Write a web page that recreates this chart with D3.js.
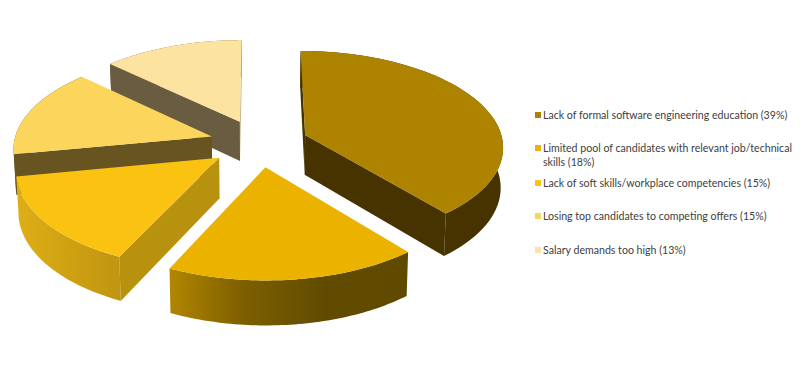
<!DOCTYPE html>
<html>
<head>
<meta charset="utf-8">
<script src="https://cdn.jsdelivr.net/npm/d3@7/dist/d3.min.js"></script>
<style>
html,body{margin:0;padding:0;background:#fff;}
svg{display:block;}
text{font-family:Lato,"Open Sans",sans-serif;font-size:10.6px;fill:#404040;}
</style>
</head>
<body>
<svg id="chart" width="800" height="383"></svg>
<script>
const categories = [
  "Lack of formal software engineering education (39%)",
  "Limited pool of candidates with relevant job/technical skills (18%)",
  "Lack of soft skills/workplace competencies (15%)",
  "Losing top candidates to competing offers (15%)",
  "Salary demands too high (13%)"
];
const legendLines = [
  ["Lack of formal software engineering education (39%)"],
  ["Limited pool of candidates with relevant job/technical", "skills (18%)"],
  ["Lack of soft skills/workplace competencies (15%)"],
  ["Losing top candidates to competing offers (15%)"],
  ["Salary demands too high (13%)"]
];
const values = [39, 18, 15, 15, 13];

const topColors   = ["#ae8300", "#ebb300", "#fac312", "#fcd55c", "#fce3a0"];
const startWall   = ["#463300", null, "#b8920e", "#675420", "#6a5c40"];
const endWall     = ["#463300", null, null, null, "#c8b888"];
const outerStops  = [
  [[0, "#463300"], [1, "#463300"]],
  [[0, "#b28600"], [0.3, "#7f6000"], [0.65, "#604b00"], [1, "#5f4a00"]],
  [[0, "#deae15"], [1, "#c09510"]],
  [[0, "#675420"], [1, "#675420"]],
  [[0, "#6a5c40"], [1, "#6a5c40"]]
];

const cx = 259, cy = 143, Rx = 198, Ry = 95;
const depth = 40, persp = 0.11, explode = 0.25, bottomScale = 0.99;

const x = d3.scaleLinear().domain([-1, 1]).range([cx - Rx, cx + Rx]);
const y = d3.scaleLinear().domain([-1, 1]).range([cy + Ry, cy - Ry]);

function project(u, v, bottom) {
  const s = 1 / (1 + persp * v);
  const b = bottom ? bottomScale : 1;
  return [
    cx + (x(u * s) - cx) * b,
    (cy + (y(v * s) - cy) * b) + (bottom ? depth * s : 0)
  ];
}

const svg = d3.select("#chart");
const defs = svg.append("defs");
const pie = d3.pie().sort(null).value(d => d);
const arcs = pie(values).map((a, i) => {
  const mid = (a.startAngle + a.endAngle) / 2;
  return {
    i, start: a.startAngle, end: a.endAngle,
    ou: explode * Math.sin(mid), ov: explode * Math.cos(mid)
  };
});

const line = d3.line().curve(d3.curveLinear);

outerStops.forEach((stops, i) => {
  const g = defs.append("linearGradient").attr("id", "outer" + i);
  stops.forEach(s => g.append("stop").attr("offset", s[0]).attr("stop-color", s[1]));
});

const order = arcs.slice().sort((p, q) => q.ov - p.ov);
const layers = svg.append("g");

order.forEach(s => {
  const rim = d3.range(0, 61).map(k => s.start + (s.end - s.start) * k / 60);
  const pt = (a, bottom) => project(s.ou + Math.sin(a), s.ov + Math.cos(a), bottom);
  const apex = b => project(s.ou, s.ov, b);
  const g = layers.append("g").attr("class", "slice");

  const rimTop = rim.map(a => pt(a, false));
  const rimBot = rim.map(a => pt(a, true));

  g.append("path").attr("d", line(rimTop.concat(rimBot.slice().reverse())) + "Z")
    .attr("fill", "url(#outer" + s.i + ")");
  if (endWall[s.i]) g.append("path")
    .attr("d", line([apex(false), pt(s.end, false), pt(s.end, true), apex(true)]) + "Z")
    .attr("fill", endWall[s.i]);
  if (startWall[s.i]) g.append("path")
    .attr("d", line([apex(false), pt(s.start, false), pt(s.start, true), apex(true)]) + "Z")
    .attr("fill", startWall[s.i]);
  g.append("path")
    .attr("d", line([apex(false)].concat(rimTop)) + "Z")
    .attr("fill", topColors[s.i]);
});

const legendY = [115, 148, 183, 216, 250];
const legend = svg.append("g");
categories.forEach((c, i) => {
  const g = legend.append("g");
  g.append("rect").attr("x", 535).attr("y", legendY[i] - 3).attr("width", 6).attr("height", 6)
    .attr("fill", topColors[i]);
  legendLines[i].forEach((t, j) => {
    g.append("text").attr("x", 543).attr("y", legendY[i] + 4 + j * 14).text(t);
  });
});
</script>
</body>
</html>
